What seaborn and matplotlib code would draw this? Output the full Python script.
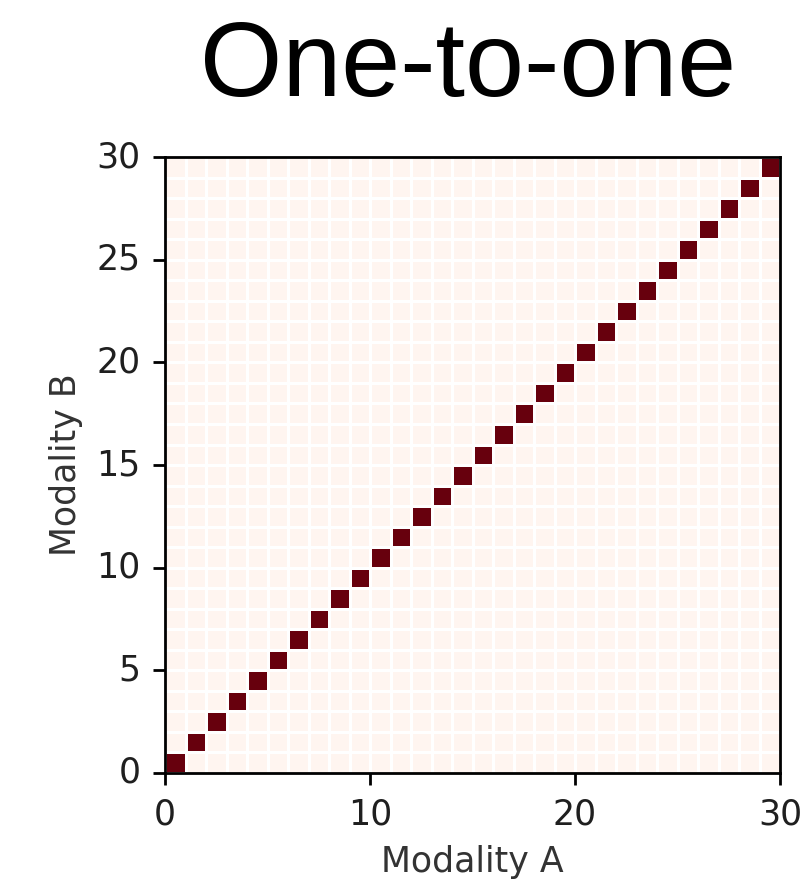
import numpy as np
import pandas as pd
import matplotlib
matplotlib.use("Agg")
import matplotlib.pyplot as plt
import seaborn as sns

# Data: one-to-one mapping between Modality A index and Modality B index
a_index = list(range(30))
b_match = list(range(30))          # each A index matches the same B index
x_ticks = [0, 10, 20, 30]
y_ticks = [0, 5, 10, 15, 20, 25, 30]
title = "One-to-one"
x_label = "Modality A"
y_label = "Modality B"

n = len(a_index)
mat = np.zeros((n, n))
for a, b in zip(a_index, b_match):
    mat[b, a] = 1.0
df = pd.DataFrame(mat, index=a_index, columns=a_index)

DPI = 250
fig = plt.figure(figsize=(805 / DPI, 893 / DPI), dpi=DPI)
ax = fig.add_axes([0.205, 0.1344, 0.764, 0.6896])

sns.heatmap(df, cmap="Reds", vmin=0, vmax=1, cbar=False, ax=ax,
            linewidths=0.4, linecolor="white", square=False)
ax.invert_yaxis()  # origin at bottom-left

ax.set_xticks(x_ticks)
ax.set_xticklabels([str(t) for t in x_ticks], rotation=0)
ax.set_yticks(y_ticks)
ax.set_yticklabels([str(t) for t in y_ticks], rotation=0)
ax.set_xlim(0, n)
ax.set_ylim(0, n)

for s in ax.spines.values():
    s.set_visible(True)
    s.set_linewidth(0.8)
    s.set_color("black")

ax.tick_params(axis="both", which="both", length=3.5, width=0.8,
               labelsize=10, colors="black", labelcolor="0.12", direction="out")
ax.set_xlabel(x_label, fontsize=10, color="0.2")
ax.set_ylabel(y_label, fontsize=10, color="0.2")

fig.text(0.581, 0.893, title, ha="center", va="baseline",
         fontsize=30.5, family="Liberation Sans", color="black")

fig.savefig("out.png", dpi=DPI)
